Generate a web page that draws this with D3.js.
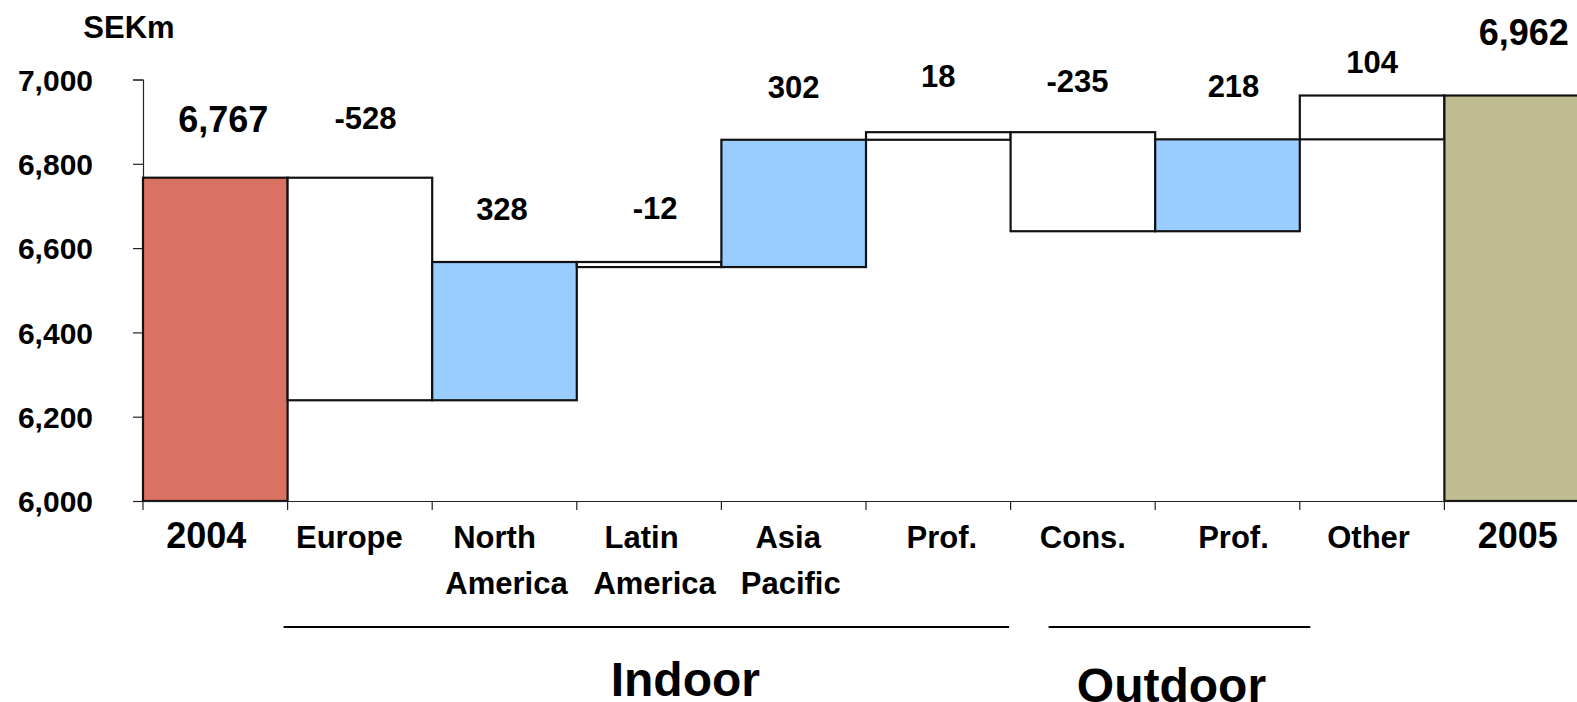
<!DOCTYPE html>
<html>
<head>
<meta charset="utf-8">
<script src="https://cdn.jsdelivr.net/npm/d3@7"></script>
<style>
  html, body { margin: 0; padding: 0; background: #fff; }
  svg { display: block; }
  text { font-family: "Liberation Sans", Arial, sans-serif; font-weight: bold; fill: #000; }
</style>
</head>
<body>
<svg id="chart" width="1577" height="702"></svg>
<script>
// ---- data ----
const categories = ["2004", "Europe", "North America", "Latin America", "Asia Pacific",
                    "Indoor Prof.", "Cons.", "Outdoor Prof.", "Other", "2005"];
const tickLabels = [["2004"], ["Europe"], ["North", "America"], ["Latin", "America"], ["Asia", "Pacific"],
                    ["Prof."], ["Cons."], ["Prof."], ["Other"], ["2005"]];
const values = [6767, -528, 328, -12, 302, 18, -235, 218, 104, 6962];
const totalCategories = ["2004", "2005"];
const shadedChanges = ["North America", "Asia Pacific", "Outdoor Prof."];
const yTicks = [6000, 6200, 6400, 6600, 6800, 7000];
const groupNames = ["Indoor", "Outdoor"];
const groupFirst = ["Europe", "Cons."];
const groupLast = ["Indoor Prof.", "Outdoor Prof."];
const unitLabel = "SEKm";

// ---- layout ----
const W = 1577, H = 702;
const x0 = 143, bandW = 144.6;
const yBase = 501, yTop = 79.5;
// how far each value label sits above the top of its bar, and its sideways nudge (px)
const labelLift = [46, 49, 42, 43, 42, 45, 40, 42, 23, 51];
const labelShift = [8, 5.5, -2.5, 6, 0, 0, -5.5, 6, 0, 7];
// sideways nudge of each category label line (px)
const catShift = [[-9], [-10.5], [-10, 2], [-7.5, 5.5], [-5.5, -3], [3.5], [0], [6], [-3.5], [1]];
const colors = { start: "#D97262", end: "#BEBC90", up: "#99CCFF", plain: "#FFFFFF" };

const svg = d3.select("#chart");

const x = d3.scaleBand().domain(categories).range([x0, x0 + bandW * categories.length]).padding(0);
const y = d3.scaleLinear().domain([6000, 7000]).range([yBase, yTop]);

// running totals for the waterfall
let running = 0;
const bars = categories.map((c, i) => {
  const v = values[i];
  let lo, hi;
  if (totalCategories.includes(c)) {
    lo = y.domain()[0]; hi = v; running = v;
  } else {
    const start = running; running += v;
    lo = Math.min(start, running); hi = Math.max(start, running);
  }
  let fill = colors.plain;
  if (c === totalCategories[0]) fill = colors.start;
  else if (c === totalCategories[1]) fill = colors.end;
  else if (shadedChanges.includes(c)) fill = colors.up;
  const isTotal = totalCategories.includes(c);
  return { c, v, lo, hi, fill, isTotal, label: isTotal ? d3.format(",")(v) : String(v), i };
});

// y axis
const yAxis = d3.axisLeft(y).tickValues(yTicks).tickSize(10).tickPadding(40).tickFormat(d3.format(","));
const gy = svg.append("g").attr("transform", `translate(${x0},0)`).call(yAxis);
gy.select(".domain").attr("stroke", "#222").attr("stroke-width", 1.2);
gy.selectAll(".tick line").attr("stroke", "#222").attr("stroke-width", 1.2);
gy.selectAll(".tick text").style("font-size", "30px").style("font-family", "Liberation Sans, Arial, sans-serif")
  .style("font-weight", "bold").attr("fill", "#000").attr("dy", "0.36em");

svg.append("text").attr("x", 129).attr("y", 38).attr("text-anchor", "middle")
  .style("font-size", "31px").text(unitLabel);

// bars
svg.append("g").selectAll("rect").data(bars).join("rect")
  .attr("x", d => x(d.c))
  .attr("width", x.bandwidth())
  .attr("y", d => y(d.hi))
  .attr("height", d => y(d.lo) - y(d.hi))
  .attr("fill", d => d.fill)
  .attr("stroke", "#111")
  .attr("stroke-width", 2.2);

// x axis baseline and boundary ticks
const xAxis = d3.axisBottom(x).tickSize(0).tickFormat("");
const gx = svg.append("g").attr("transform", `translate(0,${yBase})`).call(xAxis);
gx.select(".domain").attr("stroke", "#222").attr("stroke-width", 1.2);
const bounds = categories.map(c => x(c));
svg.append("g").selectAll("line").data(bounds).join("line")
  .attr("x1", d => d).attr("x2", d => d)
  .attr("y1", yBase).attr("y2", yBase + 9)
  .attr("stroke", "#222").attr("stroke-width", 1.2);

// value labels
svg.append("g").selectAll("text").data(bars).join("text")
  .attr("x", d => x(d.c) + x.bandwidth() / 2 + labelShift[d.i])
  .attr("y", d => y(d.hi) - labelLift[d.i])
  .attr("text-anchor", "middle")
  .style("font-size", d => d.isTotal ? "36px" : "31px")
  .text(d => d.label);

// category labels
const catG = svg.append("g").selectAll("text").data(categories).join("text")
  .attr("y", 548)
  .attr("text-anchor", "middle")
  .style("font-size", c => totalCategories.includes(c) ? "36px" : "31px");
catG.selectAll("tspan").data((c, i) => tickLabels[i].map((t, j) => ({ t, c, dx: catShift[i][j] }))).join("tspan")
  .attr("x", d => x(d.c) + x.bandwidth() / 2 + d.dx)
  .attr("dy", (d, j) => j === 0 ? 0 : 45.5)
  .text(d => d.t);

// group brackets
const groupLineStart = [-4, 38];
const groupLineEnd = [-1.5, 10.5];
const groupTextDx = [39, -8];
const groupTextY = [696, 702];
groupNames.forEach((g, i) => {
  const a = x(groupFirst[i]) + groupLineStart[i];
  const b = x(groupLast[i]) + x.bandwidth() + groupLineEnd[i];
  svg.append("line").attr("x1", a).attr("x2", b).attr("y1", 627).attr("y2", 627)
    .attr("stroke", "#000").attr("stroke-width", 2);
  svg.append("text").attr("x", (a + b) / 2 + groupTextDx[i]).attr("y", groupTextY[i])
    .attr("text-anchor", "middle").style("font-size", "48px").text(g);
});
</script>
</body>
</html>
